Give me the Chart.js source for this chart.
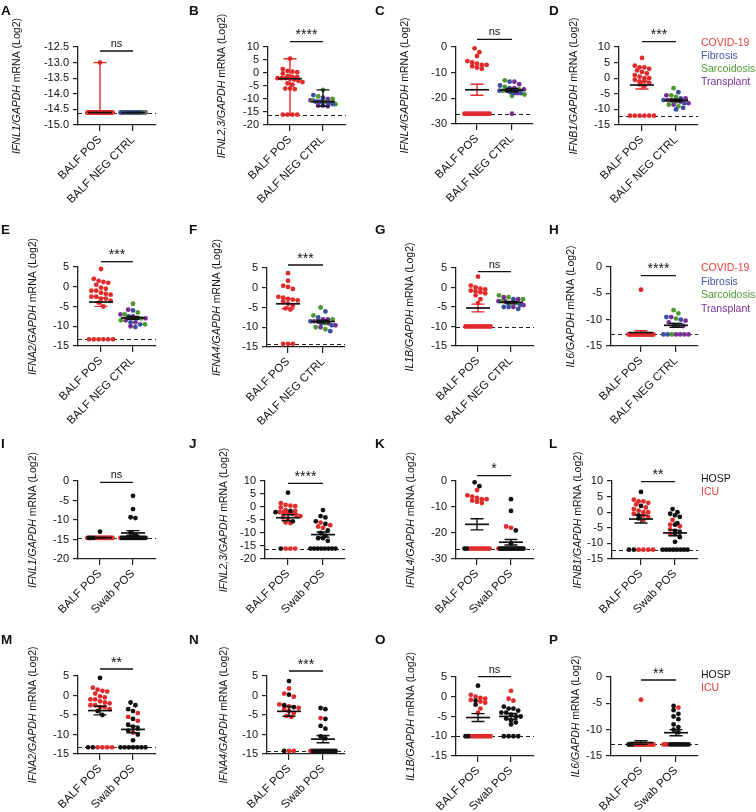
<!DOCTYPE html>
<html><head><meta charset="utf-8">
<script src="https://cdn.jsdelivr.net/npm/chart.js@4.4.1/dist/chart.umd.min.js"></script>
<style>
html,body{margin:0;padding:0;background:#fff;}
#wrap{position:relative;width:756px;height:812px;overflow:hidden;font-family:"Liberation Sans",Arial,sans-serif;background:#fff;}
canvas{position:absolute;}
.lt{position:absolute;font-weight:bold;font-size:13.5px;line-height:16px;color:#111;}
.lg{position:absolute;font-size:10.5px;white-space:nowrap;}
</style></head><body><div id="wrap"></div>
<script>
// ---------- categories / labels ----------
const CATS_CTRL = ['BALF POS', 'BALF NEG CTRL'];
const CATS_SWAB = ['BALF POS', 'Swab POS'];
const GENES = ['IFNL1', 'IFNL2,3', 'IFNL4', 'IFNB1', 'IFNA2', 'IFNA4', 'IL1B', 'IL6'];
const SIG_TOP = ['ns', '****', 'ns', '***', '***', '***', 'ns', '****'];
const SIG_BOT = ['ns', '****', '*', '**', '**', '***', 'ns', '**'];
const LOD = [-14.6, -16, -26, -12, -13.3, -14.2, -10, -12.8];
const Y_MIN_TOP = [-15, -20, -30, -15, -15, -15, -15, -15];
const Y_MAX_TOP = [-12.5, 10, 0, 10, 5, 5, 5, 0];
const Y_STEP_TOP = [0.5, 5, 10, 5, 5, 5, 5, 5];
const Y_MIN_BOT = [-20, -20, -30, -15, -15, -15, -15, -15];
const Y_MAX_BOT = [0, 10, 0, 10, 5, 5, 5, 0];
const Y_STEP_BOT = [5, 5, 10, 5, 5, 5, 5, 5];
const LEGEND_DISEASE = ['COVID-19', 'Fibrosis', 'Sarcoidosis', 'Transplant'];
const LEGEND_SEVERITY = ['HOSP', 'ICU'];

// ---------- A-H: BALF POS (COVID-19) vs BALF NEG CTRL ----------
const A_pos = [-13.0, -14.6,-14.6,-14.6,-14.6,-14.6,-14.6,-14.6,-14.6,-14.6,-14.6, -14.6,-14.6,-14.6,-14.6,-14.6,-14.6,-14.6,-14.6,-14.6,-14.6, -14.6,-14.6,-14.6];
const A_fib = [-14.6,-14.6,-14.6,-14.6,-14.6,-14.6];
const A_sar = [-14.6,-14.6,-14.6,-14.6,-14.6,-14.6,-14.6];
const A_tx  = [-14.6,-14.6,-14.6,-14.6,-14.6,-14.6,-14.6];

const B_pos = [5.5, 1.5, 0.8, 0.5, 0.3, -0.2, -1.2, -1.5, -1.5, -2, -2, -2, -2.2, -2.5, -3, -3.5, -4, -4.5, -6, -6, -6.2, -16, -16, -16, -16];
const B_fib = [-8.5, -9.5, -11, -11, -11.5, -12, -12.5];
const B_sar = [-6.5, -9, -10, -10.5, -11, -12];
const B_tx  = [-10, -10.5, -11, -11, -11.5, -12.5, -12.8];

const C_pos = [-0.5, -2, -3.5, -5.5, -6, -6.5, -7, -7, -7.5, -8, -8.5, -26,-26,-26,-26,-26,-26,-26,-26,-26,-26,-26,-26,-26];
const C_fib = [-13.5, -15, -16, -17, -17.5, -18, -18];
const C_sar = [-13, -15.5, -16.5, -17, -18.5, -19];
const C_tx  = [-13.5, -14.5, -16, -16.5, -17, -18, -26];

const D_pos = [6.5, 4, 3.5, 3.5, 3, 2.5, 2, 1.5, 1, 0.5, 0, 0, -0.5, -1, -1, -1.5, -2, -2.5, -12,-12,-12,-12,-12,-12];
const D_fib = [-4.5, -6.5, -7, -8, -9.5, -10];
const D_sar = [-3.2, -5.5, -6, -7.5, -8.5, -9];
const D_tx  = [-5.5, -6.5, -7, -7, -7.5, -8, -8.5];

const E_pos = [4.5, 2, 1.5, 1.2, 1, 0.5, -0.2, -0.5, -1, -1, -1.5, -1.8, -2, -2.5, -2.5, -3, -3, -3.5, -4, -5, -13.3,-13.3,-13.3,-13.3,-13.3,-13.3];
const E_fib = [-6, -7.5, -8, -9, -9.5, -10.2];
const E_sar = [-4.3, -6.5, -7, -8, -8.5, -9.5];
const E_tx  = [-5.8, -7, -7.5, -8, -8.5, -9, -10];

const F_pos = [3.7, 1.8, 0.5, 0.2, -0.3, -2.3, -2.5, -2.8, -3, -3.2, -3.5, -4, -4.5, -5.2, -5.5, -14.2,-14.2,-14.2];
const F_fib = [-6, -7.5, -8.5, -9, -9.5, -11];
const F_sar = [-5, -7, -8, -9, -10, -10.5];
const F_tx  = [-8, -8, -8.5, -8.5, -9, -9.5, -10];

const G_pos = [2.8, 0.5, 0, -0.3, -0.5, -0.8, -1, -1.2, -1.5, -2, -3, -4, -10,-10,-10,-10,-10,-10,-10,-10,-10,-10,-10];
const G_fib = [-3, -4, -4.5, -5, -5, -5.5];
const G_sar = [-2, -2.5, -3, -3.5, -4, -4];
const G_tx  = [-2.5, -3, -3.5, -3.5, -4, -4.5, -5];

const H_pos = [-4.3, -12.8,-12.8,-12.8,-12.8,-12.8,-12.8,-12.8,-12.8,-12.8,-12.8, -12.8,-12.8,-12.8,-12.8,-12.8,-12.8,-12.8,-12.8,-12.8,-12.8, -12.8,-12.8,-12.8];
const H_fib = [-9.5, -10, -11, -12.8, -12.8];
const H_sar = [-8.2, -8.8, -9.8, -11, -12.8];
const H_tx  = [-9.5, -10.2, -10.5, -11.2, -12.8, -12.8, -12.8, -12.8];

// ---------- I-P: BALF POS vs Swab POS (HOSP / ICU) ----------
const I_balfHosp = [-13, -14.6, -14.6, -14.6];
const I_balfIcu  = [-14.6,-14.6,-14.6,-14.6,-14.6,-14.6,-14.6,-14.6,-14.6,-14.6, -14.6,-14.6,-14.6,-14.6,-14.6,-14.6,-14.6,-14.6,-14.6,-14.6];
const I_swabHosp = [-3.8, -7.2, -9.3, -9.5, -13.2, -13.8, -14.6,-14.6,-14.6,-14.6,-14.6,-14.6,-14.6,-14.6,-14.6,-14.6, -14.6,-14.6,-14.6,-14.6,-14.6,-14.6,-14.6];
const I_swabIcu  = [-14.6];

const J_balfHosp = [5.5, -1.5, -2, -5.5, -16];
const J_balfIcu  = [1.5, 0.8, 0.5, 0.3, -0.2, -1.2, -1.5, -2, -2, -2.2, -2.5, -3, -3.5, -4, -4.5, -6, -6.2, -16, -16, -16];
const J_swabHosp = [-1.2, -3.5, -4, -5.5, -6.5, -9, -10, -11, -12, -12, -13, -16,-16,-16,-16,-16,-16,-16,-16];
const J_swabIcu  = [-6, -7, -7.5, -8];

const K_balfHosp = [-0.5, -2, -26, -26];
const K_balfIcu  = [-3.5, -5.5, -6, -6.5, -7, -7, -7.5, -8, -8.5, -26,-26,-26,-26,-26,-26,-26,-26,-26,-26,-26];
const K_swabHosp = [-7, -11.5, -19, -24, -26,-26,-26,-26,-26,-26,-26,-26,-26,-26, -26,-26,-26,-26,-26,-26,-26];
const K_swabIcu  = [-17.5, -18, -26];

const L_balfHosp = [6.5, 2, -1, -2, -12, -12];
const L_balfIcu  = [4, 3.5, 3.5, 3, 2.5, 1.5, 1, 0.5, 0, 0, -0.5, -1, -1.5, -2.5, -12, -12, -12, -12];
const L_swabHosp = [1, 0, -0.5, -1, -1.5, -3.5, -4, -6, -6.5, -7, -8, -9.5, -12,-12,-12,-12,-12,-12,-12,-12];
const L_swabIcu  = [-2.5, -4, -4.5, -5.5, -7];

const M_balfHosp = [4.5, -4, -5, -13.3, -13.3];
const M_balfIcu  = [2, 1.5, 1.2, 1, 0.5, -0.2, -0.5, -1, -1, -1.5, -1.8, -2, -2.5, -2.5, -3, -3, -3.5, -13.3, -13.3, -13.3, -13.3];
const M_swabHosp = [-1.8, -2.5, -3.5, -4, -6, -7.5, -8, -8.5, -9, -10, -11.5, -13.3,-13.3,-13.3,-13.3,-13.3,-13.3,-13.3];
const M_swabIcu  = [-4.5, -5.5, -6.5, -9.5];

const N_balfHosp = [3.7, 0.2, -2.5, -3, -14.2];
const N_balfIcu  = [1.8, 0.5, -0.3, -2.3, -2.8, -3.2, -3.5, -4, -4.5, -5.2, -5.5, -14.2, -14.2];
const N_swabHosp = [-3.2, -3.5, -6, -7.8, -8.5, -10.5, -11, -14.2,-14.2,-14.2,-14.2,-14.2,-14.2,-14.2,-14.2,-14.2,-14.2];
const N_swabIcu  = [-5.8, -14.2];

const O_balfHosp = [2.8, -1, -2, -10, -10];
const O_balfIcu  = [0.5, 0, -0.3, -0.5, -0.8, -1.2, -1.5, -3, -4, -10,-10,-10,-10,-10,-10,-10,-10,-10];
const O_swabHosp = [-2.5, -3, -3, -3.5, -4, -4, -4.5, -5, -5, -5.5, -6, -6.5, -7, -10, -10, -10, -10];
const O_swabIcu  = [1.5, -0.5, -1];

const P_balfHosp = [-12.8, -12.8, -12.8];
const P_balfIcu  = [-4.3, -12.8,-12.8,-12.8,-12.8,-12.8,-12.8,-12.8,-12.8,-12.8,-12.8, -12.8,-12.8,-12.8,-12.8,-12.8,-12.8,-12.8,-12.8,-12.8,-12.8];
const P_swabHosp = [-5.5, -6.3, -7, -7.5, -8, -9, -9.5, -10, -10.5, -12.8,-12.8,-12.8,-12.8,-12.8,-12.8,-12.8,-12.8,-12.8];
const P_swabIcu  = [-5.8, -12.8, -12.8, -12.8];

// ---------- styling / layout (not data) ----------
const RED = '#e12b2b', BLUE = '#3b4f9f', GREEN = '#4b982c', PURPLE = '#7a2e95', BLACK = '#111111';
const FONT = '"Liberation Sans", Arial, sans-serif';
// plot box per panel: [axisLeft, axisRight, top, bottom, tick1X, tick2X]
const BOX = [
  [78,156,47,125,100,133],[268,346,47,125,290,323],[456,533,47,124,477,512],[619,698,47,125,642,676],
  [78,156,267,346,101,133],[267,345,268,347,288,323],[456,534,268,346,478,511],[611,698,267,346,641,676],
  [78,156,481,559,100,133],[265,345,481,559,288,323],[456,534,481,559,477,511],[612,698,481,559,641,675],
  [78,156,676,754,100,133],[267,345,676,754,289,323],[456,534,677,756,478,511],[611,698,677,756,641,676]
];
const TITLE_X = [17,222,405,574,33,217,410,571,33,224,411,578,33,224,411,576];
const SIG_OFF = [4,-5.3,-7.7,-5.3,-5.3,-3,3.7,8.7,1.3,2.3,-5.3,0.7,-7,-5,-0.3,3];
const LETTER_X = [1,189,375,549], LETTER_Y = [3,222,436,632];

// ---------- build panels ----------
const TOP_POS = [A_pos,B_pos,C_pos,D_pos,E_pos,F_pos,G_pos,H_pos];
const TOP_FIB = [A_fib,B_fib,C_fib,D_fib,E_fib,F_fib,G_fib,H_fib];
const TOP_SAR = [A_sar,B_sar,C_sar,D_sar,E_sar,F_sar,G_sar,H_sar];
const TOP_TX  = [A_tx,B_tx,C_tx,D_tx,E_tx,F_tx,G_tx,H_tx];
const BOT_BH = [I_balfHosp,J_balfHosp,K_balfHosp,L_balfHosp,M_balfHosp,N_balfHosp,O_balfHosp,P_balfHosp];
const BOT_BI = [I_balfIcu,J_balfIcu,K_balfIcu,L_balfIcu,M_balfIcu,N_balfIcu,O_balfIcu,P_balfIcu];
const BOT_SH = [I_swabHosp,J_swabHosp,K_swabHosp,L_swabHosp,M_swabHosp,N_swabHosp,O_swabHosp,P_swabHosp];
const BOT_SI = [I_swabIcu,J_swabIcu,K_swabIcu,L_swabIcu,M_swabIcu,N_swabIcu,O_swabIcu,P_swabIcu];

const panels = [];
for (let i = 0; i < 8; i++) {
  panels.push({ gene: GENES[i], cats: CATS_CTRL, sig: SIG_TOP[i], lod: LOD[i],
    ymin: Y_MIN_TOP[i], ymax: Y_MAX_TOP[i], step: Y_STEP_TOP[i], stat: i < 2 ? 'median' : 'mean',
    cols: [
      { groups: [{ vals: TOP_POS[i], color: RED }], bar: RED },
      { groups: [{ vals: TOP_FIB[i], color: BLUE }, { vals: TOP_SAR[i], color: GREEN }, { vals: TOP_TX[i], color: PURPLE }], bar: BLACK }
    ]});
}
for (let i = 0; i < 8; i++) {
  panels.push({ gene: GENES[i], cats: CATS_SWAB, sig: SIG_BOT[i], lod: LOD[i],
    ymin: Y_MIN_BOT[i], ymax: Y_MAX_BOT[i], step: Y_STEP_BOT[i], stat: 'mean',
    cols: [
      { groups: [{ vals: BOT_BH[i], color: BLACK }, { vals: BOT_BI[i], color: RED }], bar: BLACK },
      { groups: [{ vals: BOT_SH[i], color: BLACK }, { vals: BOT_SI[i], color: RED }], bar: BLACK }
    ]});
}

// beeswarm layout (pixel-based, converted to data x)
function swarm(groupVals, cx, pxX, pxY) {
  const pts = [];
  groupVals.forEach((g, gi) => g.forEach((v, i) => pts.push({ v, gi, i })));
  pts.sort((a, b) => b.v - a.v || a.i - b.i || a.gi - b.gi);
  const rows = []; let cur = null;
  pts.forEach(p => {
    const py = -p.v * pxY;
    if (cur && py - cur.y0 < 4.2) cur.items.push(p);
    else { cur = { y0: py, items: [p] }; rows.push(cur); }
  });
  const out = groupVals.map(() => []);
  rows.forEach(r => {
    const n = r.items.length;
    const sp = n > 1 ? Math.min(4.8, 25 / (n - 1)) : 0;
    r.items.forEach((p, k) => {
      const off = (k - (n - 1) / 2) * sp;
      out[p.gi].push({ x: cx + off / pxX, y: p.v });
    });
  });
  return out;
}

function stats(vals, type) {
  const n = vals.length, s = [...vals].sort((a, b) => a - b);
  if (type === 'median') {
    const med = n % 2 ? s[(n - 1) / 2] : (s[n / 2 - 1] + s[n / 2]) / 2;
    return { c: med, lo: s[0], hi: s[n - 1] };
  }
  const m = vals.reduce((a, b) => a + b, 0) / n;
  const sd = Math.sqrt(vals.reduce((a, b) => a + (b - m) * (b - m), 0) / (n - 1));
  const se = sd / Math.sqrt(n);
  return { c: m, lo: m - se, hi: m + se };
}

const figPlugin = {
  id: 'fig',
  beforeDatasetsDraw(chart) {
    const o = chart.options.plugins.fig, ctx = chart.ctx, a = chart.chartArea, ys = chart.scales.y;
    const yl = Math.round(ys.getPixelForValue(o.lod)) + 0.5;
    ctx.save(); ctx.setLineDash([4, 3]); ctx.strokeStyle = '#222'; ctx.lineWidth = 1.1;
    ctx.beginPath(); ctx.moveTo(a.left, yl); ctx.lineTo(a.right, yl); ctx.stroke(); ctx.restore();
  },
  afterDatasetsDraw(chart) {
    const o = chart.options.plugins.fig, ctx = chart.ctx, a = chart.chartArea;
    const xs = chart.scales.x, ys = chart.scales.y;
    ctx.save();
    o.stats.forEach((st, ci) => {
      const cx = xs.getPixelForValue(ci + 1);
      const yc = ys.getPixelForValue(st.c), ylo = ys.getPixelForValue(st.lo), yhi = ys.getPixelForValue(st.hi);
      ctx.strokeStyle = st.bar; ctx.lineWidth = 1.4;
      ctx.beginPath();
      ctx.moveTo(cx, yhi); ctx.lineTo(cx, ylo);
      ctx.moveTo(cx - 6.5, yhi); ctx.lineTo(cx + 6.5, yhi);
      ctx.moveTo(cx - 6.5, ylo); ctx.lineTo(cx + 6.5, ylo);
      ctx.stroke();
      ctx.strokeStyle = BLACK; ctx.lineWidth = 1.7;
      ctx.beginPath(); ctx.moveTo(cx - 12, yc); ctx.lineTo(cx + 12, yc); ctx.stroke();
    });
    // significance bar
    const x1 = xs.getPixelForValue(1), x2 = xs.getPixelForValue(2), yb = a.top + o.sigOff;
    ctx.strokeStyle = BLACK; ctx.lineWidth = 1.3;
    ctx.beginPath(); ctx.moveTo(x1, yb); ctx.lineTo(x2, yb); ctx.stroke();
    ctx.fillStyle = BLACK; ctx.textAlign = 'center'; ctx.textBaseline = 'alphabetic';
    ctx.font = (o.sig === 'ns' ? '11px ' : '14px ') + FONT;
    ctx.fillText(o.sig, (x1 + x2) / 2, yb - (o.sig === 'ns' ? 4 : 2.5));
    // y title with italic gene part
    ctx.translate(o.titleX, (a.top + a.bottom) / 2); ctx.rotate(-Math.PI / 2);
    const p1 = o.gene + '/GAPDH', p2 = ' mRNA (Log2)';
    const f1 = 'italic 10.5px ' + FONT, f2 = '10.5px ' + FONT;
    ctx.font = f1; const w1 = ctx.measureText(p1).width;
    ctx.font = f2; const w2 = ctx.measureText(p2).width;
    const x0 = -(w1 + w2) / 2;
    ctx.textAlign = 'left'; ctx.textBaseline = 'middle'; ctx.fillStyle = '#111';
    ctx.font = f1; ctx.fillText(p1, x0, 0);
    ctx.font = f2; ctx.fillText(p2, x0 + w1, 0);
    ctx.restore();
  }
};

const wrap = document.getElementById('wrap');
const YW = 95, TP = 42, RP = 14, XH = 95;

panels.forEach((p, k) => {
  const [L, R, T, B, t1, t2] = BOX[k];
  const cv = document.createElement('canvas');
  const left = L - YW, top = T - TP, w = YW + (R - L) + RP, h = TP + (B - T) + XH;
  cv.width = w; cv.height = h;
  cv.style.left = left + 'px'; cv.style.top = top + 'px';
  cv.style.width = w + 'px'; cv.style.height = h + 'px';
  wrap.appendChild(cv);
  const unit = t2 - t1;
  const xmin = 1 - (t1 - L) / unit, xmax = 2 + (R - t2) / unit;
  const pxY = (B - T) / (p.ymax - p.ymin);
  const datasets = [], st = [];
  p.cols.forEach((col, ci) => {
    const out = swarm(col.groups.map(g => g.vals), ci + 1, unit, pxY);
    col.groups.forEach((g, gi) => datasets.push({
      data: out[gi], backgroundColor: g.color, borderWidth: 0,
      pointRadius: 2.4, pointHoverRadius: 2.4, clip: false
    }));
    const all = [].concat(...col.groups.map(g => g.vals));
    const s = stats(all, p.stat); s.bar = col.bar; st.push(s);
  });
  const cats = p.cats;
  const fmt = p.step < 1 ? (v => v.toFixed(1)) : (v => String(v));
  new Chart(cv, {
    type: 'scatter',
    data: { datasets },
    options: {
      responsive: false, animation: false, events: [], devicePixelRatio: 1,
      layout: { padding: { left: 0, top: TP, right: RP, bottom: 0 } },
      plugins: {
        legend: { display: false }, tooltip: { enabled: false },
        fig: { lod: p.lod, sig: p.sig, stats: st, gene: p.gene, titleX: TITLE_X[k] - left, sigOff: SIG_OFF[k] }
      },
      scales: {
        x: {
          type: 'linear', min: xmin, max: xmax,
          grid: { drawOnChartArea: false, drawTicks: true, tickLength: 6, color: '#222', lineWidth: 1.2 },
          border: { display: true, color: '#222', width: 1.3 },
          afterBuildTicks: s => { s.ticks = [{ value: 1 }, { value: 2 }]; },
          ticks: { autoSkip: false, minRotation: 45, maxRotation: 45, padding: 2, color: '#111',
                   font: { family: FONT, size: 11.5 }, callback: v => cats[Math.round(v) - 1] },
          afterFit: s => { s.height = XH; s.paddingLeft = 0; s.paddingRight = 0; }
        },
        y: {
          type: 'linear', min: p.ymin, max: p.ymax,
          grid: { drawOnChartArea: false, drawTicks: true, tickLength: 5, color: '#222', lineWidth: 1.2 },
          border: { display: true, color: '#222', width: 1.3 },
          ticks: { stepSize: p.step, autoSkip: false, maxTicksLimit: 100, padding: 4, color: '#111',
                   font: { family: FONT, size: 11 }, callback: fmt },
          afterFit: s => { s.width = YW; s.paddingTop = 0; s.paddingBottom = 0; }
        }
      }
    },
    plugins: [figPlugin]
  });
});

// panel letters
'ABCDEFGHIJKLMNOP'.split('').forEach((ch, k) => {
  const d = document.createElement('div'); d.className = 'lt'; d.textContent = ch;
  d.style.left = LETTER_X[k % 4] + 'px'; d.style.top = LETTER_Y[Math.floor(k / 4)] + 'px';
  wrap.appendChild(d);
});

// legends
function legend(items, colors, x, y, lh) {
  items.forEach((t, i) => {
    const d = document.createElement('div'); d.className = 'lg'; d.textContent = t;
    d.style.color = colors[i]; d.style.left = x + 'px'; d.style.top = (y + i * lh) + 'px';
    d.style.lineHeight = lh + 'px';
    wrap.appendChild(d);
  });
}
const DIS_COLORS = ['#e8403a', '#4155a3', '#4f9a30', '#7b2f99'];
const SEV_COLORS = ['#111111', '#e53b35'];
legend(LEGEND_DISEASE, DIS_COLORS, 701, 36, 13);
legend(LEGEND_DISEASE, DIS_COLORS, 701, 261, 13.7);
legend(LEGEND_SEVERITY, SEV_COLORS, 701, 472, 13);
legend(LEGEND_SEVERITY, SEV_COLORS, 701, 668, 13);
</script></body></html>
